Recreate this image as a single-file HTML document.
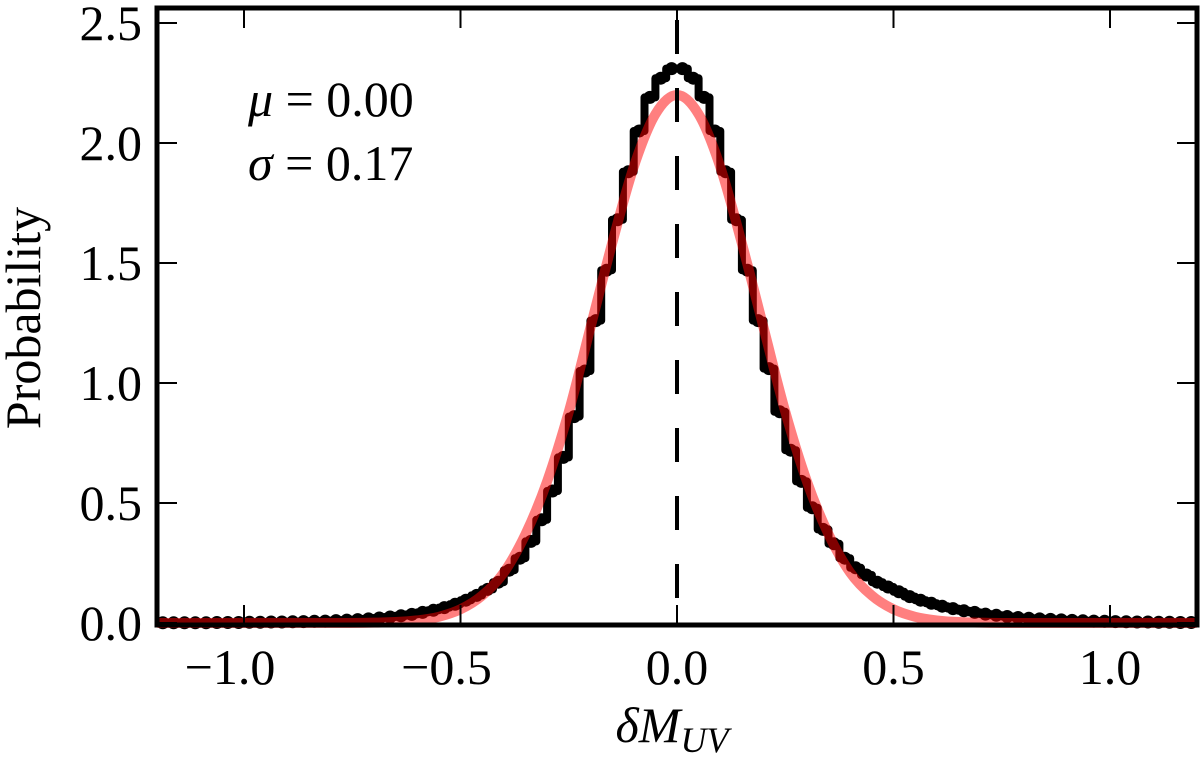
<!DOCTYPE html>
<html><head><meta charset="utf-8"><style>
body{margin:0;background:#fff}
svg text{font-family:"Liberation Serif","DejaVu Serif",serif;fill:#000}
</style></head><body>
<svg id="chart" width="1200" height="757" xmlns="http://www.w3.org/2000/svg">
<g id="plot"></g>
<text x="248" y="116" font-size="50" font-style="italic">μ <tspan font-style="normal">= 0.00</tspan></text>
<text x="248" y="180" font-size="50" font-style="italic">σ <tspan font-style="normal">= 0.17</tspan></text>
<text transform="translate(40,318) rotate(-90)" text-anchor="middle" font-size="50">Probability</text>
<text x="672" y="742" text-anchor="middle" font-size="50" font-style="italic">δM<tspan font-size="36" dy="10">UV</tspan></text>
</svg>
<script>
const xTicks=[-1.0,-0.5,0.0,0.5,1.0];
const xTickLabels=["−1.0","−0.5","0.0","0.5","1.0"];
const yTicks=[0,0.5,1.0,1.5,2.0,2.5];
const yTickLabels=["0.0","0.5","1.0","1.5","2.0","2.5"];
const binWidth=0.025;
const leftHalf=[2.31,2.27,2.19,2.05,1.88,1.68,1.47,1.26,1.05,0.86,0.69,0.55,0.43,0.34,0.27,0.22,0.17,0.14,0.115,0.095,0.078,0.064,0.053,0.044,0.036,0.03,0.025,0.021,0.017,0.014,0.012,0.01,0.008,0.007,0.006,0.005,0.004,0.004,0.003,0.003,0.002,0.002,0.002,0.001,0.001,0.001,0.001,0.001];
const rightHalf=[2.31,2.27,2.19,2.05,1.88,1.68,1.47,1.26,1.06,0.88,0.72,0.59,0.48,0.39,0.33,0.27,0.23,0.2,0.17,0.15,0.13,0.11,0.095,0.082,0.07,0.06,0.051,0.044,0.037,0.032,0.027,0.023,0.02,0.017,0.015,0.013,0.011,0.009,0.008,0.007,0.006,0.005,0.004,0.004,0.003,0.003,0.002,0.002];
const histValues=leftHalf.slice().reverse().concat(rightHalf);
const fitX=[-1.2,-0.8,-0.7,-0.65,-0.6,-0.55,-0.5,-0.45,-0.4,-0.35,-0.3,-0.25,-0.2,-0.15,-0.1,-0.05,0,0.05,0.1,0.15,0.2,0.25,0.3,0.35,0.4,0.45,0.5,0.55,0.6,0.65,0.7,0.8,1.2];
const fitY=[0,0,0.0015,0.004,0.011,0.026,0.057,0.114,0.21,0.37,0.59,0.88,1.23,1.58,1.90,2.12,2.20,2.12,1.90,1.58,1.23,0.88,0.59,0.37,0.21,0.114,0.057,0.026,0.011,0.004,0.0015,0,0];
const meanLine=0.0;

const X0=157,X1=1197,Y0=625,Ytop=8;
const sx=v=>677+v*433;
const sy=v=>623-v*240;
const NS="http://www.w3.org/2000/svg";
const g=document.getElementById('plot');
function mk(t,a){const e=document.createElementNS(NS,t);for(const k in a)e.setAttribute(k,a[k]);return e;}

function smooth(px,py){let s="M"+px[0]+","+py[0];for(let i=0;i<px.length-1;i++){const p0=[px[Math.max(i-1,0)],py[Math.max(i-1,0)]],p1=[px[i],py[i]],p2=[px[i+1],py[i+1]],p3=[px[Math.min(i+2,px.length-1)],py[Math.min(i+2,px.length-1)]];const c1=[p1[0]+(p2[0]-p0[0])/6,p1[1]+(p2[1]-p0[1])/6],c2=[p2[0]-(p3[0]-p1[0])/6,p2[1]-(p3[1]-p1[1])/6];s+=`C${c1[0].toFixed(1)},${c1[1].toFixed(1)} ${c2[0].toFixed(1)},${c2[1].toFixed(1)} ${p2[0].toFixed(1)},${p2[1].toFixed(1)}`;}return s;}

let hd="";const n=histValues.length;const start=-n/2*binWidth;
histValues.forEach((v,i)=>{const a=sx(start+i*binWidth),b=sx(start+(i+1)*binWidth),y=sy(v);hd+=(i?"L":"M")+a.toFixed(1)+","+y.toFixed(1)+"L"+b.toFixed(1)+","+y.toFixed(1);});
const hist=mk('path',{d:hd,fill:'none',stroke:'#000','stroke-width':8,'stroke-linejoin':'round'});


g.appendChild(hist);
histValues.forEach((v,i)=>{const c=mk('circle',{cx:sx(start+(i+0.5)*binWidth).toFixed(1),cy:sy(v).toFixed(1),r:6.5,fill:'#000'});


g.appendChild(c);});

const fit=mk('path',{d:smooth(fitX.map(sx),fitY.map(sy)),fill:'none',stroke:'#ff0000','stroke-opacity':0.5,'stroke-width':10});


g.appendChild(fit);

const ml=mk('line',{x1:sx(meanLine),x2:sx(meanLine),y1:Ytop+12,y2:Y0,stroke:'#000','stroke-width':4,'stroke-dasharray':'34,34'});


g.appendChild(ml);

xTicks.forEach((t,i)=>{const x=sx(t);
const tb=mk('line',{x1:x,x2:x,y1:Y0,y2:Y0-20,stroke:'#000','stroke-width':2});


g.appendChild(tb);
const tt=mk('line',{x1:x,x2:x,y1:Ytop,y2:Ytop+20,stroke:'#000','stroke-width':2});


g.appendChild(tt);
const l=mk('text',{x:x+(t<0?-14:0),y:684,'text-anchor':'middle','font-size':50});l.textContent=xTickLabels[i];


g.appendChild(l);});
yTicks.forEach((t,i)=>{const y=sy(t);
const tl=mk('line',{x1:X0,x2:X0+20,y1:y,y2:y,stroke:'#000','stroke-width':2});


g.appendChild(tl);
const tr=mk('line',{x1:X1-20,x2:X1,y1:y,y2:y,stroke:'#000','stroke-width':2});


g.appendChild(tr);
const l=mk('text',{x:142,y:y+17,'text-anchor':'end','font-size':50});l.textContent=yTickLabels[i];


g.appendChild(l);});

const frame=mk('rect',{x:X0,y:Ytop,width:X1-X0,height:Y0-Ytop,fill:'none',stroke:'#000','stroke-width':5});


g.appendChild(frame);
</script>
</body></html>
